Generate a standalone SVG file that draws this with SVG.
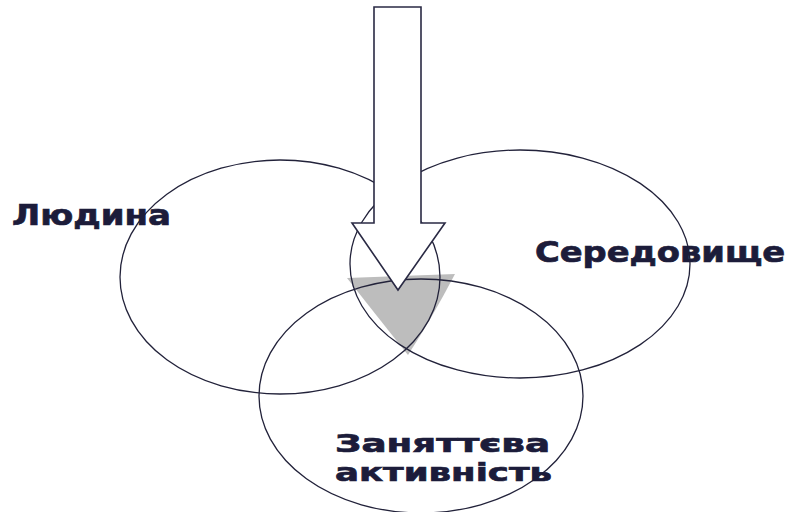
<svg xmlns="http://www.w3.org/2000/svg" width="790" height="512" viewBox="0 0 790 512">
<style>
.ring{fill:none;stroke:#22223a;stroke-width:1.3}
.lbl{font-family:"DejaVu Sans","Liberation Sans",sans-serif;font-weight:bold;fill:#1c1c3a;stroke:#1c1c3a;stroke-width:0.7}
.arrow{fill:#fff;stroke:#2a2a44;stroke-width:1.6;stroke-linejoin:miter}
</style>
<rect width="790" height="512" fill="#fff"/>
<g id="overlap">
<path d="M347,278 L455,274 Q432,318 408,355 Q380,320 347,278 Z" fill="#bdbdbd"/>
</g>
<g id="connectors">
<g id="man"><ellipse class="ring" cx="280" cy="277" rx="160" ry="117"/></g>
<g id="environment"><ellipse class="ring" cx="520" cy="264" rx="170" ry="114"/></g>
<g id="occupation"><ellipse class="ring" cx="421" cy="396" rx="162" ry="117"/></g>
<g id="arrow"><path class="arrow" d="M374,7 L421,7 L421,223 L445,223 L398,290 L352,223 L374,223 Z"/></g>
</g>
<text class="lbl" x="12" y="225" font-size="29" textLength="159" lengthAdjust="spacingAndGlyphs">Людина</text>
<text class="lbl" x="535" y="262" font-size="28" textLength="250" lengthAdjust="spacingAndGlyphs">Середовище</text>
<text class="lbl" x="335" y="452" font-size="25" textLength="215" lengthAdjust="spacingAndGlyphs">Заняттєва</text>
<text class="lbl" x="335" y="481" font-size="25" textLength="217" lengthAdjust="spacingAndGlyphs">активність</text>
</svg>
